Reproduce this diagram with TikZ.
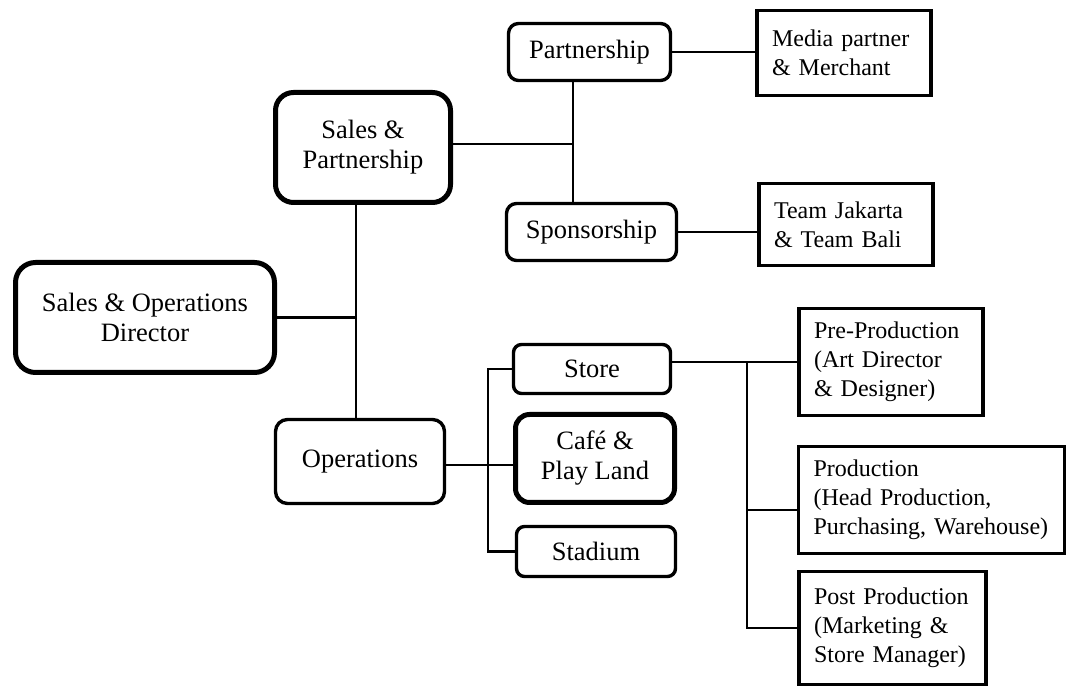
\documentclass[tikz,border=0pt]{standalone}
\usepackage{fontspec}
\setmainfont{Liberation Serif}
\hyphenpenalty=10000
\begin{document}
\begin{tikzpicture}[x=0.5pt,y=-0.5pt,
  conn/.style={line width=1.4pt},
  rbox/.style={draw, rounded corners=5pt, line width=1.7pt, align=center,
    font=\fontsize{13.25}{15}\selectfont, inner sep=0pt},
  thickbox/.style={rbox, line width=2.5pt, rounded corners=9pt},
  sqbox/.style={draw, line width=1.7pt, align=left,
    font=\fontsize{12}{14.5}\selectfont, inner xsep=7.5pt, inner ysep=0pt}]
\useasboundingbox (0,0) rectangle (1069,688);
% nodes
\node[thickbox, rounded corners=10pt, minimum width=129.5pt, minimum height=55pt] (dir) at (145,317.5) {Sales \& Operations\\Director};
\node[thickbox, minimum width=87.5pt, minimum height=55pt] (salesp) at (363,147.5) {Sales \&\\Partnership};
\node[rbox, rounded corners=6pt, minimum width=84.5pt, minimum height=42pt] (ops) at (360,461.5) {Operations};
\node[rbox, minimum width=81pt, minimum height=28.5pt] (partner) at (589.5,52) {Partnership};
\node[rbox, minimum width=85pt, minimum height=28.5pt] (spons) at (591.5,232) {Sponsorship};
\node[sqbox, text width=72pt, minimum height=42.5pt] (media) at (844,53) {Media partner\\\& Merchant};
\node[sqbox, text width=72pt, minimum height=41pt] (team) at (846,224.5) {Team Jakarta\\\& Team Bali};
\node[rbox, rounded corners=4pt, minimum width=78.5pt, minimum height=24.5pt] (store) at (592,369) {Store};
\node[thickbox, rounded corners=7pt, minimum width=79.5pt, minimum height=44pt] (cafe) at (595,458.5) {Café \&\\Play Land};
\node[rbox, rounded corners=4pt, minimum width=79.5pt, minimum height=25pt] (stad) at (596,551.5) {Stadium};
\node[sqbox, text width=77pt, minimum height=53.5pt] (pre) at (891,362) {Pre-Production\\(Art Director\\\& Designer)};
\node[sqbox, text width=118pt, minimum height=53.5pt] (prod) at (931.5,500) {Production\\(Head Production,\\Purchasing, Warehouse)};
\node[sqbox, text width=78.5pt, minimum height=56.5pt] (post) at (892.5,628) {Post Production\\(Marketing \&\\Store Manager)};
% junctions
\coordinate (j1) at (573,144);
\coordinate (j2) at (356,317.5);
\coordinate (j3) at (488,465);
\coordinate (j4) at (747,362);
\coordinate (j5) at (747,510);
% connectors
\draw[conn] (salesp.east |- j1) -- (j1);
\draw[conn] (partner.south -| j1) -- (spons.north -| j1);
\draw[conn] (partner.east) -- (partner.east -| media.west);
\draw[conn] (spons.east) -- (spons.east -| team.west);
\draw[conn] (dir.east) -- (j2);
\draw[conn] (salesp.south -| j2) -- (ops.north -| j2);
\draw[conn] (ops.east |- j3) -- (cafe.west |- j3);
\draw[conn] (store.west) -- (store.west -| j3) -- (stad.west -| j3) -- (stad.west);
\draw[conn] (store.east |- j4) -- (pre.west |- j4);
\draw[conn] (j4) -- (j4 |- post.west) -- (post.west);
\draw[conn] (j5) -- (prod.west |- j5);
\end{tikzpicture}
\end{document}
